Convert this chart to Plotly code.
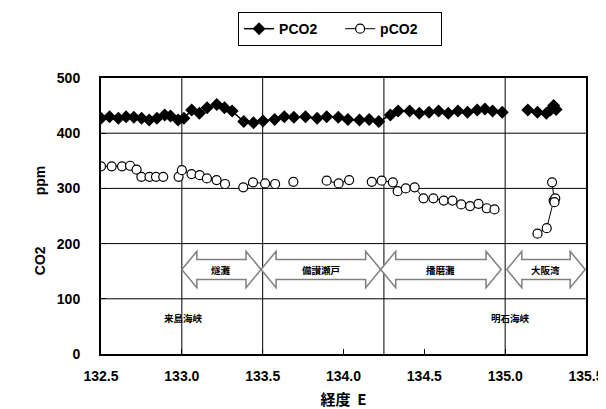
import plotly.graph_objects as go

# ---- data ----
lon_P = [132.5, 132.553, 132.607, 132.655, 132.703, 132.751, 132.798, 132.846, 132.894, 132.93,
         132.977, 133.013, 133.061, 133.109, 133.156, 133.216, 133.264, 133.311, 133.383, 133.443,
         133.502, 133.574, 133.634, 133.693, 133.765, 133.837, 133.896, 133.968, 134.027, 134.099,
         134.159, 134.218, 134.29, 134.338, 134.409, 134.469, 134.529, 134.588, 134.648, 134.708,
         134.767, 134.827, 134.875, 134.922, 134.982, None,
         135.14, 135.2, 135.255, 135.28, 135.3, 135.315]
PCO2 = [427, 430, 427, 430, 429, 427, 424, 427, 433, 431,
        424, 427, 442, 436, 446, 452, 446, 440, 421, 419,
        422, 425, 430, 429, 430, 427, 430, 429, 425, 424,
        425, 421, 433, 440, 440, 436, 438, 440, 436, 440,
        438, 442, 444, 440, 438, None,
        442, 438, 436, 442, 450, 443]

lon_p = [132.5, 132.566, 132.63, 132.68, 132.72, 132.75, 132.80, 132.84, 132.885, None,
         132.98, 133.0, 133.06, 133.11, 133.155, 133.215, 133.267, None,
         133.38, 133.44, 133.515, 133.577, None,
         133.69, None,
         133.896, 133.97, 134.035, None,
         134.175, 134.236, 134.305, 134.335, 134.385, 134.44, 134.495, 134.556, 134.62, 134.674,
         134.728, 134.783, 134.835, 134.886, 134.934, None,
         135.2, 135.257, 135.3, 135.31, 135.305, 135.29]
pCO2 = [340, 340, 340, 341, 334, 321, 321, 321, 321, None,
        321, 333, 326, 324, 318, 315, 308, None,
        302, 311, 309, 308, None,
        312, None,
        314, 309, 315, None,
        312, 314, 311, 295, 300, 302, 282, 282, 278, 278,
        271, 268, 272, 264, 262, None,
        218, 228, 278, 282, 275, 311]

boundaries = [133.0, 133.5, 134.25, 135.0]
regions = ["燧灘", "備讃瀬戸", "播磨灘", "大阪湾"]
region_start = [133.0, 133.49, 134.23, 135.01]
region_end = [133.49, 134.23, 134.975, 135.495]
straits = ["来島海峡", "明石海峡"]
strait_lon = [133.01, 135.03]

x_ticks = [132.5, 133.0, 133.5, 134.0, 134.5, 135.0, 135.5]
y_ticks = [0, 100, 200, 300, 400, 500]

BOLD = dict(family="Liberation Sans", size=14, color="black", weight="bold")
JP = dict(family="Noto Sans CJK JP", size=9.5, color="black", weight="bold")

# ---- figure ----
fig = go.Figure()
fig.add_trace(go.Scatter(
    x=lon_P, y=PCO2, name="PCO2", mode="lines+markers",
    line=dict(color="black", width=1.5),
    marker=dict(symbol="diamond", size=10, color="black"),
    connectgaps=False))
fig.add_trace(go.Scatter(
    x=lon_p, y=pCO2, name="pCO2", mode="lines+markers",
    line=dict(color="black", width=1),
    marker=dict(symbol="circle", size=9, color="white", line=dict(color="black", width=1.2)),
    connectgaps=False))

shapes = []
for b in boundaries:
    shapes.append(dict(type="line", xref="x", yref="y", x0=b, x1=b, y0=0, y1=500,
                       line=dict(color="black", width=1), layer="below"))
for yv in y_ticks[1:-1]:
    shapes.append(dict(type="line", xref="x", yref="y", x0=132.5, x1=135.5, y0=yv, y1=yv,
                       line=dict(color="black", width=1), layer="below"))

yc, ho, hs, hl = 153, 33, 18, 0.093
annotations = []
for name, a, b in zip(regions, region_start, region_end):
    p = (f"M {a},{yc} L {a+hl},{yc+ho} L {a+hl},{yc+hs} L {b-hl},{yc+hs} L {b-hl},{yc+ho} "
         f"L {b},{yc} L {b-hl},{yc-ho} L {b-hl},{yc-hs} L {a+hl},{yc-hs} L {a+hl},{yc-ho} Z")
    shapes.append(dict(type="path", xref="x", yref="y", path=p,
                       line=dict(color="#7f7f7f", width=1.5), fillcolor="white", layer="above"))
    annotations.append(dict(x=(a + b) / 2, y=yc, xref="x", yref="y", text=name,
                            showarrow=False, font=JP))
for name, lx in zip(straits, strait_lon):
    annotations.append(dict(x=lx, y=66, xref="x", yref="y", text=name,
                            showarrow=False, font=JP))

# y-axis title pieces (placed left of the tick labels)
annotations.append(dict(x=-0.146, y=0.63, xref="paper", yref="paper", text="ppm",
                        showarrow=False, textangle=-90, font=BOLD))
annotations.append(dict(x=-0.146, y=0.337, xref="paper", yref="paper", text="CO2",
                        showarrow=False, textangle=-90, font=BOLD))

fig.update_layout(
    width=606, height=409,
    margin=dict(l=93, r=28, t=70, b=63, autoexpand=False),
    paper_bgcolor="white", plot_bgcolor="white",
    showlegend=True,
    legend=dict(orientation="h", xref="container", yref="container", x=0.548, y=0.99,
                xanchor="center", yanchor="top", bordercolor="black", borderwidth=1,
                font=BOLD, itemwidth=30, entrywidth=56, tracegroupgap=0),
    xaxis=dict(range=[132.5, 135.5], tickvals=x_ticks, ticktext=[f"{v:.1f}" for v in x_ticks],
               showgrid=False, zeroline=False, ticks="inside", ticklen=5, tickcolor="black",
               showline=True, linecolor="black", linewidth=2, mirror=True, automargin=False,
               ticklabelstandoff=8, tickfont=BOLD,
               title=dict(text="経度  E", standoff=12,
                          font=dict(family="Noto Sans CJK JP", size=15, color="black", weight="bold"))),
    yaxis=dict(range=[0, 500], tickvals=y_ticks, showgrid=False, zeroline=False,
               ticks="inside", ticklen=5, tickcolor="black", automargin=False,
               showline=True, linecolor="black", linewidth=2, mirror=True,
               ticklabelstandoff=16, tickfont=BOLD),
    shapes=shapes,
    annotations=annotations,
)
fig.write_html("out.html")
